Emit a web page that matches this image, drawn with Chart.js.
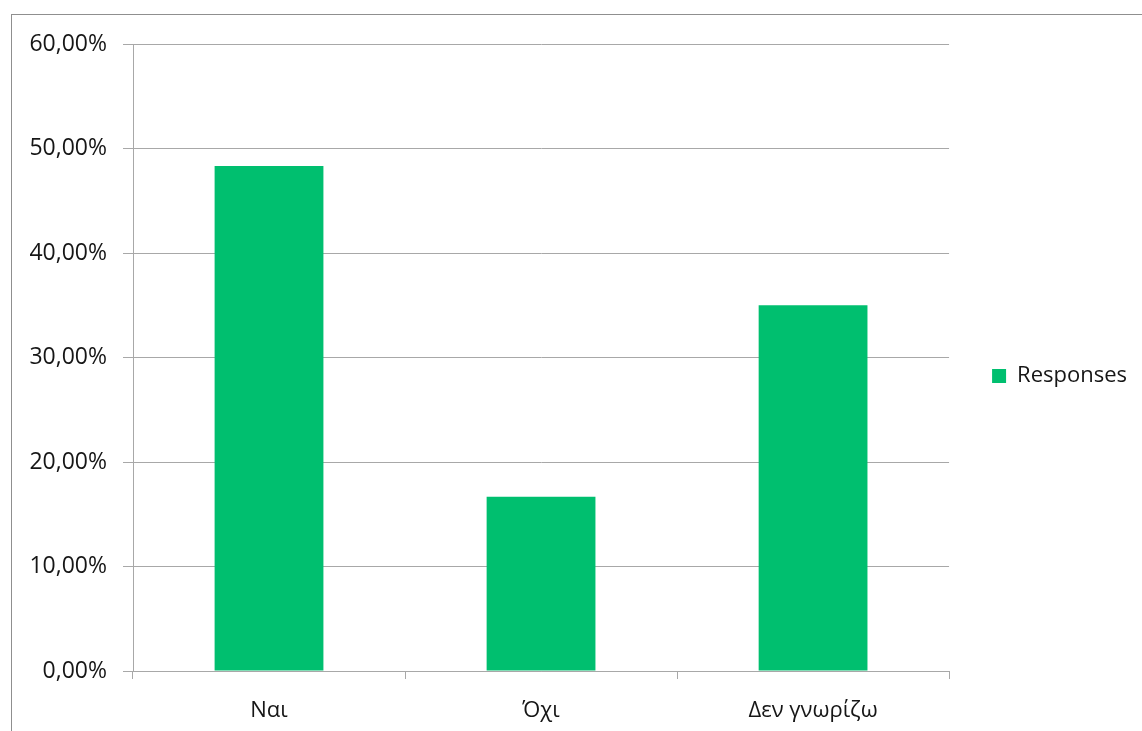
<!DOCTYPE html>
<html>
<head>
<meta charset="utf-8">
<script src="https://cdn.jsdelivr.net/npm/chart.js@4/dist/chart.umd.min.js"></script>
<style>
  html, body { margin: 0; padding: 0; background: #ffffff; overflow: hidden; }
  #frame { position: absolute; left: 11px; top: 14px; width: 1300px; height: 900px; border: 1.5px solid #8f8f8f; }
  #wrap { position: absolute; left: 0; top: 0; width: 1142px; height: 731px; }
</style>
</head>
<body>
<div id="frame"></div>
<div id="wrap"><canvas id="c" width="1142" height="731"></canvas></div>
<script>
const categories = ['Ναι', 'Όχι', 'Δεν γνωρίζω'];
const responses = [48.33, 16.67, 35.00];
const seriesName = 'Responses';
const yMin = 0;
const yMax = 60;
const yStep = 10;

const FONT = "'Open Sans', 'DejaVu Sans', sans-serif";
const TEXT = '#161616';
const GRID = '#a8a8a8';

new Chart(document.getElementById('c'), {
  type: 'bar',
  data: {
    labels: categories,
    datasets: [{
      label: seriesName,
      data: responses,
      backgroundColor: '#00bf6f',
      borderWidth: 0,
      barPercentage: 0.4,
      categoryPercentage: 1.0
    }]
  },
  options: {
    responsive: false,
    animation: false,
    layout: { padding: { left: 0, top: 26, right: 5, bottom: 5 } },
    plugins: {
      tooltip: { enabled: false },
      title: {
        display: true,
        text: '',
        padding: 0,
        font: { size: 15, lineHeight: 1.2 }
      },
      legend: {
        position: 'right',
        align: 'center',
        labels: {
          boxWidth: 14,
          boxHeight: 14,
          padding: 43,
          color: TEXT,
          font: { family: FONT, size: 22 }
        }
      }
    },
    scales: {
      x: {
        offset: true,
        grid: { display: true, drawOnChartArea: false, drawTicks: true, tickLength: 8, color: GRID, lineWidth: 1 },
        border: { display: true, color: GRID, width: 1 },
        ticks: { color: TEXT, padding: 19, font: { family: FONT, size: 22 }, maxRotation: 0 },
        afterFit: (s) => { s.height = 55; }
      },
      y: {
        min: yMin,
        max: yMax,
        grid: { color: GRID, lineWidth: 1, tickLength: 10 },
        border: { display: true, color: GRID, width: 1 },
        ticks: {
          stepSize: yStep,
          padding: 16,
          color: TEXT,
          font: { family: FONT, size: 23 },
          callback: (v) => Number(v).toFixed(2).replace('.', ',') + '%'
        },
        afterFit: (s) => { s.width = 133; }
      }
    }
  }
});
</script>
</body>
</html>
